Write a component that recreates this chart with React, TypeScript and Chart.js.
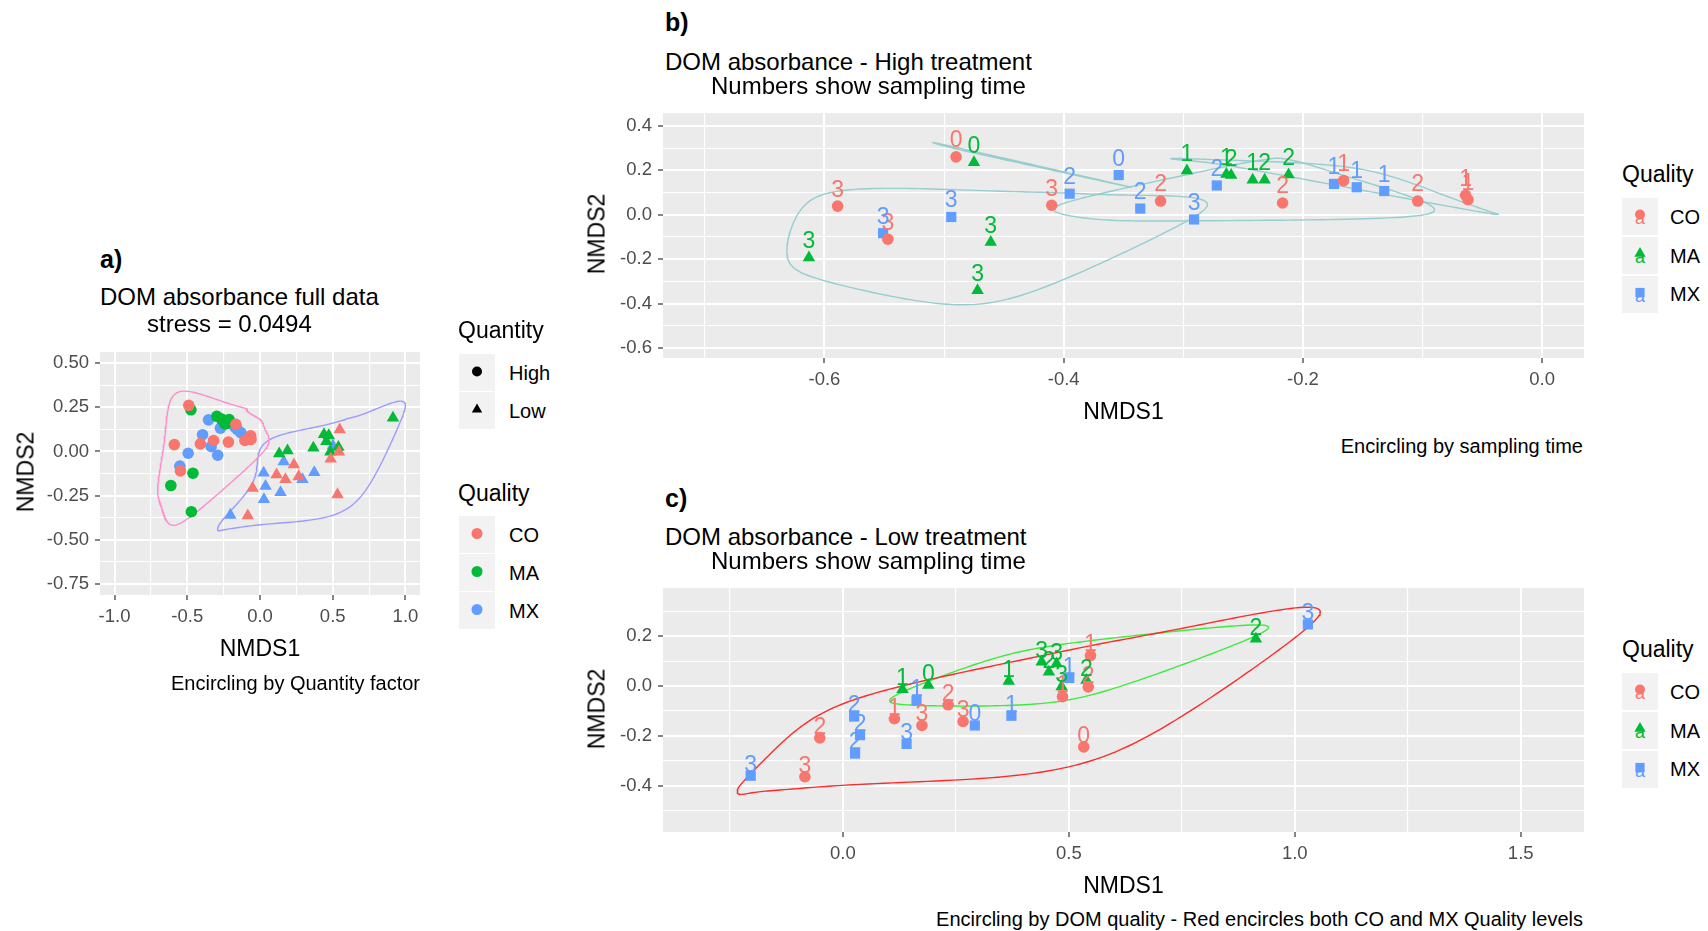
import React, { useEffect, useRef } from 'react';
import { Chart, registerables } from 'chart.js';
Chart.register(...registerables);

const FONT = "'Liberation Sans', Arial, Helvetica, sans-serif";

// ---------------- DATA (NMDS coordinates) ----------------
// High treatment (panel b; also the circles of panel a)
const highCO_x = [-0.490, -0.589, -0.547, -0.410, -0.319, -0.217, -0.166, -0.104, -0.064, -0.062];
const highCO_y = [0.261, 0.039, -0.110, 0.043, 0.062, 0.053, 0.154, 0.062, 0.088, 0.068];
const highCO_t = ['0', '3', '3', '3', '2', '2', '1', '2', '1', '1'];
const highMA_x = [-0.475, -0.613, -0.472, -0.461, -0.297, -0.264, -0.260, -0.242, -0.232, -0.212];
const highMA_y = [0.236, -0.193, -0.341, -0.123, 0.199, 0.183, 0.178, 0.157, 0.157, 0.181];
const highMA_t = ['0', '3', '3', '3', '1', '1', '2', '1', '2', '2'];
const highMX_x = [-0.354, -0.551, -0.494, -0.395, -0.336, -0.291, -0.272, -0.174, -0.155, -0.132];
const highMX_y = [0.179, -0.083, -0.010, 0.095, 0.028, -0.021, 0.132, 0.139, 0.124, 0.107];
const highMX_t = ['0', '3', '3', '2', '2', '3', '2', '1', '1', '1'];

// Low treatment (panel c)
const lowCO_x = [0.533, 0.114, 0.548, 0.486, -0.051, 0.233, 0.543, -0.084, 0.175, 0.266];
const lowCO_y = [-0.244, -0.131, 0.123, -0.042, -0.208, -0.075, -0.003, -0.364, -0.158, -0.142];
const lowCO_t = ['0', '1', '1', '1', '2', '2', '2', '3', '3', '3'];
const lowMA_x = [0.189, 0.132, 0.367, 0.456, 0.539, 0.914, 0.440, 0.473, 0.484];
const lowMA_y = [0.004, -0.013, 0.020, 0.057, 0.024, 0.190, 0.097, 0.090, -0.002];
const lowMA_t = ['0', '1', '1', '2', '2', '2', '3', '3', '3'];
const lowMX_x = [0.292, 0.163, 0.373, 0.501, 0.025, 0.038, 0.027, -0.204, 0.141, 1.029];
const lowMX_y = [-0.158, -0.058, -0.119, 0.033, -0.122, -0.197, -0.271, -0.360, -0.232, 0.248];
const lowMX_t = ['0', '1', '1', '1', '2', '2', '2', '3', '3', '3'];

// Low-treatment MX triangles visible in the full-data plot (panel a)
const fullLowMX_x = [0.292, 0.163, 0.373, 0.501, 0.025, 0.038, 0.027, -0.204, 0.141];
const fullLowMX_y = [-0.158, -0.058, -0.119, 0.033, -0.122, -0.197, -0.271, -0.360, -0.232];

const sampleTimes = ['0', '1', '2', '3'];

// Axis ticks
const aXTicks = [-1.0, -0.5, 0.0, 0.5, 1.0];
const aXLabels = ['-1.0', '-0.5', '0.0', '0.5', '1.0'];
const aYTicks = [0.5, 0.25, 0.0, -0.25, -0.5, -0.75];
const aYLabels = ['0.50', '0.25', '0.00', '-0.25', '-0.50', '-0.75'];
const bXTicks = [-0.6, -0.4, -0.2, 0.0];
const bXLabels = ['-0.6', '-0.4', '-0.2', '0.0'];
const bYTicks = [0.4, 0.2, 0.0, -0.2, -0.4, -0.6];
const bYLabels = ['0.4', '0.2', '0.0', '-0.2', '-0.4', '-0.6'];
const cXTicks = [0.0, 0.5, 1.0, 1.5];
const cXLabels = ['0.0', '0.5', '1.0', '1.5'];
const cYTicks = [0.2, 0.0, -0.2, -0.4];
const cYLabels = ['0.2', '0.0', '-0.2', '-0.4'];

// Axis ranges
const aXRange: [number, number] = [-1.1, 1.1];
const aYRange: [number, number] = [-0.8125, 0.5625];
const bXRange: [number, number] = [-0.735, 0.035];
const bYRange: [number, number] = [-0.645, 0.458];
const cXRange: [number, number] = [-0.398, 1.64];
const cYRange: [number, number] = [-0.586, 0.394];

const COL = { CO: '#F8766D', MA: '#00BA38', MX: '#619CFF' };

// ---------------- helpers ----------------
function minorsOf(majors: number[], range: [number, number]) {
  const s = [...majors].sort((a, b) => a - b);
  const step = s[1] - s[0];
  const out: number[] = [];
  for (let v = s[0] - step / 2; v <= s[s.length - 1] + step / 2 + 1e-9; v += step) {
    if (v > range[0] && v < range[1]) out.push(Math.round(v * 1e6) / 1e6);
  }
  return out;
}

function convexHull(p: number[][]) {
  const pts = p.slice().sort((a, b) => a[0] - b[0] || a[1] - b[1]);
  const cross = (o: number[], a: number[], b: number[]) =>
    (a[0] - o[0]) * (b[1] - o[1]) - (a[1] - o[1]) * (b[0] - o[0]);
  const lower: number[][] = [];
  for (const q of pts) {
    while (lower.length >= 2 && cross(lower[lower.length - 2], lower[lower.length - 1], q) <= 0) lower.pop();
    lower.push(q);
  }
  const upper: number[][] = [];
  for (let i = pts.length - 1; i >= 0; i--) {
    const q = pts[i];
    while (upper.length >= 2 && cross(upper[upper.length - 2], upper[upper.length - 1], q) <= 0) upper.pop();
    upper.push(q);
  }
  upper.pop();
  lower.pop();
  return lower.concat(upper);
}

// interpolating X-spline blending (negative shape, q = -s)
function gB(u: number, q: number) {
  return u * (q + u * (2 * q + u * (8 - 12 * q + u * (14 * q - 11 + u * (4 - 5 * q)))));
}
function hB(u: number, q: number) {
  const u2 = u * u;
  return u * (q + u * (2 * q + u2 * (-2 * q - u * q)));
}

function xsplineClosed(P: number[][], q: number, steps: number) {
  const n = P.length;
  const out: number[][] = [];
  for (let k = 0; k < n; k++) {
    const p0 = P[(k - 1 + n) % n], p1 = P[k], p2 = P[(k + 1) % n], p3 = P[(k + 2) % n];
    for (let i = 0; i < steps; i++) {
      const t = i / steps;
      const A0 = hB(-t, q);
      const A2 = gB(t, q);
      const A1 = gB(1 - t, q);
      const A3 = hB(t - 1, q);
      const w = A0 + A1 + A2 + A3;
      out.push([
        (A0 * p0[0] + A1 * p1[0] + A2 * p2[0] + A3 * p3[0]) / w,
        (A0 * p0[1] + A1 * p1[1] + A2 * p2[1] + A3 * p3[1]) / w,
      ]);
    }
  }
  out.push(out[0]);
  return out;
}

// encircle outline: convex hull, vertices pushed outward, closed smooth spline
const EXPAND_PX = 12.4;
function encircle(xs: number[], ys: number[], xr: [number, number], yr: [number, number], pw: number, ph: number) {
  const W = xr[1] - xr[0], H = yr[1] - yr[0];
  const pts = xs.map((x, i) => [(x - xr[0]) / W, (ys[i] - yr[0]) / H]);
  const mx = pts.reduce((a, p) => a + p[0], 0) / pts.length;
  const my = pts.reduce((a, p) => a + p[1], 0) / pts.length;
  const ex = EXPAND_PX / pw, ey = EXPAND_PX / ph;
  const hull = convexHull(pts);
  const ctrl = hull.map(([x, y]) => [x + Math.sign(x - mx) * ex, y + Math.sign(y - my) * ey]);
  return xsplineClosed(ctrl, 0.5, 40).map(([x, y]) => ({ x: xr[0] + x * W, y: yr[0] + y * H }));
}

function byTime(t: string) {
  const xs: number[] = [], ys: number[] = [];
  [[highCO_x, highCO_y, highCO_t], [highMA_x, highMA_y, highMA_t], [highMX_x, highMX_y, highMX_t]].forEach(
    ([X, Y, T]: any) => X.forEach((x: number, i: number) => { if (T[i] === t) { xs.push(x); ys.push(Y[i]); } })
  );
  return { xs, ys };
}

type Pts = { xs: number[]; ys: number[]; color: string; style: string; r: number };
type Lab = { xs: number[]; ys: number[]; ts: string[]; color: string };
type PanelCfg = {
  plot: { l: number; t: number; w: number; h: number };
  m: { l: number; t: number; r: number; b: number };
  xr: [number, number]; yr: [number, number];
  xMaj: number[]; xLab: string[]; yMaj: number[]; yLab: string[];
  points: Pts[];
  hulls: { data: { x: number; y: number }[]; color: string }[];
  labels?: Lab[];
  nudge?: number;
};

const RC = 5.8, RT = 7.2, RS = 7.2;

const A_PLOT = { l: 100, t: 349, w: 320, h: 246 };
const B_PLOT = { l: 663, t: 110, w: 921, h: 248 };
const C_PLOT = { l: 663, t: 585, w: 921, h: 247 };

const allHighX = [...highCO_x, ...highMA_x, ...highMX_x];
const allHighY = [...highCO_y, ...highMA_y, ...highMX_y];
const allLowX = [...lowCO_x, ...lowMA_x, ...fullLowMX_x];
const allLowY = [...lowCO_y, ...lowMA_y, ...fullLowMX_y];

const panelA: PanelCfg = {
  plot: A_PLOT,
  m: { l: 70, t: 14, r: 24, b: 42 },
  xr: aXRange, yr: aYRange,
  xMaj: aXTicks, xLab: aXLabels, yMaj: aYTicks, yLab: aYLabels,
  points: [
    { xs: highCO_x, ys: highCO_y, color: COL.CO, style: 'circle', r: RC },
    { xs: highMA_x, ys: highMA_y, color: COL.MA, style: 'circle', r: RC },
    { xs: highMX_x, ys: highMX_y, color: COL.MX, style: 'circle', r: RC },
    { xs: lowCO_x, ys: lowCO_y, color: COL.CO, style: 'triangle', r: RT },
    { xs: lowMA_x, ys: lowMA_y, color: COL.MA, style: 'triangle', r: RT },
    { xs: fullLowMX_x, ys: fullLowMX_y, color: COL.MX, style: 'triangle', r: RT },
  ],
  hulls: [
    { data: encircle(allHighX, allHighY, aXRange, aYRange, A_PLOT.w, A_PLOT.h), color: '#FF8FCB' },
    { data: encircle(allLowX, allLowY, aXRange, aYRange, A_PLOT.w, A_PLOT.h), color: '#9C9CFF' },
  ],
};

const panelB: PanelCfg = {
  plot: B_PLOT,
  m: { l: 60, t: 14, r: 24, b: 42 },
  xr: bXRange, yr: bYRange,
  xMaj: bXTicks, xLab: bXLabels, yMaj: bYTicks, yLab: bYLabels,
  points: [
    { xs: highCO_x, ys: highCO_y, color: COL.CO, style: 'circle', r: RC },
    { xs: highMA_x, ys: highMA_y, color: COL.MA, style: 'triangle', r: RT },
    { xs: highMX_x, ys: highMX_y, color: COL.MX, style: 'rect', r: RS },
  ],
  hulls: sampleTimes.map((t) => {
    const g = byTime(t);
    return { data: encircle(g.xs, g.ys, bXRange, bYRange, B_PLOT.w, B_PLOT.h), color: '#96CDCD' };
  }),
  labels: [
    { xs: highCO_x, ys: highCO_y, ts: highCO_t, color: COL.CO },
    { xs: highMA_x, ys: highMA_y, ts: highMA_t, color: COL.MA },
    { xs: highMX_x, ys: highMX_y, ts: highMX_t, color: COL.MX },
  ],
  nudge: 0.08,
};

const panelC: PanelCfg = {
  plot: C_PLOT,
  m: { l: 60, t: 14, r: 24, b: 42 },
  xr: cXRange, yr: cYRange,
  xMaj: cXTicks, xLab: cXLabels, yMaj: cYTicks, yLab: cYLabels,
  points: [
    { xs: lowCO_x, ys: lowCO_y, color: COL.CO, style: 'circle', r: RC },
    { xs: lowMA_x, ys: lowMA_y, color: COL.MA, style: 'triangle', r: RT },
    { xs: lowMX_x, ys: lowMX_y, color: COL.MX, style: 'rect', r: RS },
  ],
  hulls: [
    { data: encircle([...lowCO_x, ...lowMX_x], [...lowCO_y, ...lowMX_y], cXRange, cYRange, C_PLOT.w, C_PLOT.h), color: '#FF2A2A' },
    { data: encircle(lowMA_x, lowMA_y, cXRange, cYRange, C_PLOT.w, C_PLOT.h), color: '#3DEB3D' },
  ],
  labels: [
    { xs: lowCO_x, ys: lowCO_y, ts: lowCO_t, color: COL.CO },
    { xs: lowMA_x, ys: lowMA_y, ts: lowMA_t, color: COL.MA },
    { xs: lowMX_x, ys: lowMX_y, ts: lowMX_t, color: COL.MX },
  ],
  nudge: 0.05,
};

function axisOpts(range: [number, number], majors: number[], labels: string[], isX: boolean, margin: number) {
  const minors = minorsOf(majors, range);
  const all = [...majors, ...minors].sort((a, b) => a - b);
  const isMajor = (v: number) => majors.some((m) => Math.abs(m - v) < 1e-7);
  return {
    type: 'linear',
    min: range[0],
    max: range[1],
    afterBuildTicks: (s: any) => { s.ticks = all.map((v) => ({ value: v })); },
    afterFit: (s: any) => { if (isX) s.height = margin; else s.width = margin; },
    ticks: {
      autoSkip: false, maxRotation: 0, minRotation: 0, padding: 6,
      color: '#4D4D4D', font: { size: 18.5, family: FONT },
      callback: (v: number) => {
        const k = majors.findIndex((m) => Math.abs(m - v) < 1e-7);
        return k >= 0 ? labels[k] : '';
      },
    },
    grid: {
      color: '#FFFFFF',
      lineWidth: (ctx: any) => (ctx.tick && isMajor(ctx.tick.value) ? 2 : 1.1),
      tickColor: (ctx: any) => (ctx.tick && isMajor(ctx.tick.value) ? '#333333' : 'rgba(0,0,0,0)'),
      tickLength: 5, tickWidth: 1.2, drawTicks: true, drawOnChartArea: true,
    },
    border: { display: false },
  };
}

const bgPlugin = {
  id: 'panelBg',
  beforeDraw(chart: any) {
    const { ctx, chartArea: a } = chart;
    ctx.save();
    ctx.fillStyle = '#EBEBEB';
    ctx.fillRect(a.left, a.top, a.right - a.left, a.bottom - a.top);
    ctx.restore();
  },
};

function labelPlugin(cfg: PanelCfg) {
  return {
    id: 'ptLabels',
    afterDatasetsDraw(chart: any) {
      if (!cfg.labels) return;
      const { ctx, chartArea: a } = chart;
      const xs = chart.scales.x, ys = chart.scales.y;
      ctx.save();
      ctx.beginPath();
      ctx.rect(a.left, a.top, a.right - a.left, a.bottom - a.top);
      ctx.clip();
      const fs = 23;
      ctx.font = `${fs}px ${FONT}`;
      ctx.textAlign = 'center';
      ctx.textBaseline = 'alphabetic';
      cfg.labels.forEach((L) => {
        ctx.fillStyle = L.color;
        L.xs.forEach((xv, i) => {
          ctx.fillText(L.ts[i], xs.getPixelForValue(xv), ys.getPixelForValue(L.ys[i] + (cfg.nudge || 0)) + fs * 0.358);
        });
      });
      ctx.restore();
    },
  };
}

function ChartPanel({ cfg }: { cfg: PanelCfg }) {
  const ref = useRef<HTMLCanvasElement | null>(null);
  const W = cfg.plot.w + cfg.m.l + cfg.m.r;
  const H = cfg.plot.h + cfg.m.t + cfg.m.b;
  useEffect(() => {
    const datasets: any[] = [];
    cfg.points.forEach((p) =>
      datasets.push({
        data: p.xs.map((x, i) => ({ x, y: p.ys[i] })),
        pointStyle: p.style, pointRadius: p.r, pointBackgroundColor: p.color,
        pointBorderWidth: 0, borderWidth: 0, showLine: false,
      })
    );
    cfg.hulls.forEach((h) =>
      datasets.push({
        data: h.data, showLine: true, borderColor: h.color, borderWidth: 1.4,
        pointRadius: 0, tension: 0, fill: false,
      })
    );
    const chart = new Chart(ref.current as HTMLCanvasElement, {
      type: 'scatter',
      data: { datasets },
      options: {
        animation: false, responsive: false, events: [],
        layout: { padding: { left: 0, top: cfg.m.t, right: cfg.m.r, bottom: 0 } },
        plugins: { legend: { display: false }, tooltip: { enabled: false } },
        scales: {
          x: axisOpts(cfg.xr, cfg.xMaj, cfg.xLab, true, cfg.m.b) as any,
          y: axisOpts(cfg.yr, cfg.yMaj, cfg.yLab, false, cfg.m.l) as any,
        },
      } as any,
      plugins: [bgPlugin, labelPlugin(cfg)],
    });
    return () => chart.destroy();
  }, [cfg]);
  return (
    <canvas
      ref={ref}
      width={W}
      height={H}
      style={{ position: 'absolute', left: cfg.plot.l - cfg.m.l, top: cfg.plot.t - cfg.m.t, width: W, height: H }}
    />
  );
}

// ---------------- text & legends ----------------
function T(props: { x: number; y: number; s: number; children: any; anchor?: string; weight?: number; rot?: boolean; color?: string }) {
  const { x, y, s, children, anchor = 'start', weight = 400, rot = false, color = '#000' } = props;
  const tx = anchor === 'middle' ? '-50%' : anchor === 'end' ? '-100%' : '0';
  const style: any = {
    position: 'absolute', left: x, top: rot ? y : y - 0.49 * s, fontSize: s, lineHeight: 1,
    fontFamily: FONT, whiteSpace: 'pre', color, fontWeight: weight,
    transform: rot ? 'translate(-50%,-50%) rotate(-90deg)' : `translateX(${tx})`,
  };
  return <div style={style}>{children}</div>;
}

function Shape({ kind, color, r }: { kind: string; color: string; r: number }) {
  const cx = 18, cy = 17.5;
  if (kind === 'circle') return <circle cx={cx} cy={cy} r={r} fill={color} />;
  if (kind === 'triangle') {
    const pts = [[cx, cy - r], [cx + r * 0.866, cy + r / 2], [cx - r * 0.866, cy + r / 2]].map((p) => p.join(',')).join(' ');
    return <polygon points={pts} fill={color} />;
  }
  const h = r * 0.707;
  return <rect x={cx - h} y={cy - h} width={2 * h} height={2 * h} fill={color} />;
}

function Key({ x, y, kind, color, r, withA }: { x: number; y: number; kind: string; color: string; r: number; withA?: boolean }) {
  return (
    <svg style={{ position: 'absolute', left: x, top: y }} width={36} height={37}>
      <rect width={36} height={37} fill="#F2F2F2" />
      <g transform={withA ? 'translate(0,-1)' : ''}>
        <Shape kind={kind} color={color} r={r} />
      </g>
      {withA && (
        <text x={18} y={26} fontSize={18} textAnchor="middle" fill={color} fontFamily={FONT}>a</text>
      )}
    </svg>
  );
}

function QualityLegend({ dy }: { dy: number }) {
  return (
    <>
      <T x={1622} y={174 + dy} s={23}>Quality</T>
      <Key x={1622} y={198 + dy} kind="circle" color={COL.CO} r={5} withA />
      <Key x={1622} y={237 + dy} kind="triangle" color={COL.MA} r={6.5} withA />
      <Key x={1622} y={276 + dy} kind="rect" color={COL.MX} r={6.5} withA />
      <T x={1670} y={217 + dy} s={20}>CO</T>
      <T x={1670} y={256 + dy} s={20}>MA</T>
      <T x={1670} y={294 + dy} s={20}>MX</T>
    </>
  );
}

export default function App() {
  return (
    <div style={{ position: 'fixed', left: 0, top: 0, width: 1708, height: 931, background: '#FFFFFF', overflow: 'hidden' }}>
      <ChartPanel cfg={panelA} />
      <ChartPanel cfg={panelB} />
      <ChartPanel cfg={panelC} />

      {/* Panel a */}
      <T x={100} y={259} s={25} weight={700}>a)</T>
      <T x={100} y={296.5} s={24}>DOM absorbance full data</T>
      <T x={147} y={323.5} s={24}>stress = 0.0494</T>
      <T x={260} y={648} s={23} anchor="middle">NMDS1</T>
      <T x={26} y={472} s={23} rot>NMDS2</T>
      <T x={420} y={683} s={20} anchor="end">Encircling by Quantity factor</T>
      <T x={458} y={330} s={23}>Quantity</T>
      <Key x={459} y={354} kind="circle" color="#000000" r={5} />
      <Key x={459} y={392} kind="triangle" color="#000000" r={6} />
      <T x={509} y={372.5} s={20}>High</T>
      <T x={509} y={410.5} s={20}>Low</T>
      <T x={458} y={493.5} s={23}>Quality</T>
      <Key x={459} y={516} kind="circle" color={COL.CO} r={5.5} />
      <Key x={459} y={554} kind="circle" color={COL.MA} r={5.5} />
      <Key x={459} y={592} kind="circle" color={COL.MX} r={5.5} />
      <T x={509} y={535} s={20}>CO</T>
      <T x={509} y={573} s={20}>MA</T>
      <T x={509} y={611} s={20}>MX</T>

      {/* Panel b */}
      <T x={665} y={22} s={25} weight={700}>b)</T>
      <T x={665} y={61.5} s={24}>DOM absorbance - High treatment</T>
      <T x={711} y={86} s={24}>Numbers show sampling time</T>
      <T x={1123.5} y={411} s={23} anchor="middle">NMDS1</T>
      <T x={597} y={234} s={23} rot>NMDS2</T>
      <T x={1583} y={445.5} s={20} anchor="end">Encircling by sampling time</T>
      <QualityLegend dy={0} />

      {/* Panel c */}
      <T x={665} y={498} s={25} weight={700}>c)</T>
      <T x={665} y={536.5} s={24}>DOM absorbance - Low treatment</T>
      <T x={711} y={561} s={24}>Numbers show sampling time</T>
      <T x={1123.5} y={885} s={23} anchor="middle">NMDS1</T>
      <T x={597} y={708.5} s={23} rot>NMDS2</T>
      <T x={1583} y={919} s={20} anchor="end">Encircling by DOM quality - Red encircles both CO and MX Quality levels</T>
      <QualityLegend dy={475} />
    </div>
  );
}
